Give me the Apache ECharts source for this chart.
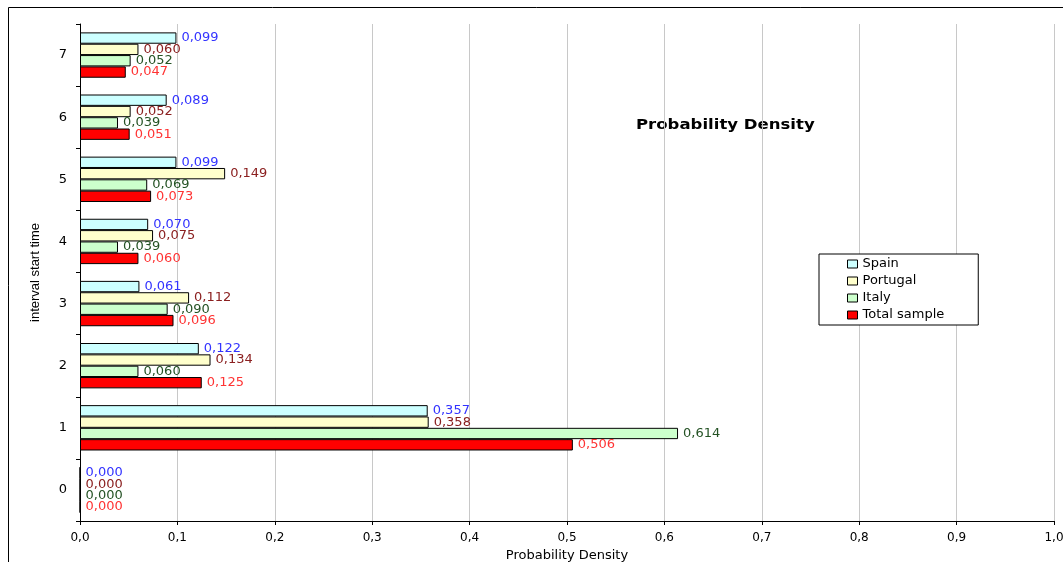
<!DOCTYPE html>
<html>
<head>
<meta charset="utf-8">
<script src="https://cdn.jsdelivr.net/npm/echarts@6/dist/echarts.min.js"></script>
<style>html,body{margin:0;padding:0;background:#fff}#c{width:1063px;height:562px}</style>
</head>
<body>
<div id="c"></div>
<script>
const categories = ['0', '1', '2', '3', '4', '5', '6', '7'];
const spain = [0.000, 0.357, 0.122, 0.061, 0.070, 0.099, 0.089, 0.099];
const portugal = [0.000, 0.358, 0.134, 0.112, 0.075, 0.149, 0.052, 0.060];
const italy = [0.000, 0.614, 0.060, 0.090, 0.039, 0.069, 0.039, 0.052];
const total = [0.000, 0.506, 0.125, 0.096, 0.060, 0.073, 0.051, 0.047];
const xTicks = ['0,0','0,1','0,2','0,3','0,4','0,5','0,6','0,7','0,8','0,9','1,0'];

const fmt = v => v.toFixed(3).replace('.', ',');
const font = 'DejaVu Sans';

function mk(name, data, fill, labelColor) {
  return {
    name: name, type: 'bar', data: data,
    barGap: '0%', barCategoryGap: '27%',
    itemStyle: { color: fill, borderColor: '#000', borderWidth: 1 },
    label: { show: true, position: 'right', distance: 5,
      formatter: p => fmt(p.value), color: labelColor,
      fontFamily: font, fontSize: 13 },
    emphasis: { disabled: true }, animation: false
  };
}

const chart = echarts.init(document.getElementById('c'), null, { renderer: 'canvas' });
chart.setOption({
  animation: false,
  backgroundColor: '#fff',
  legend: {
    orient: 'vertical', left: 819, top: 254,
    backgroundColor: '#fff', borderColor: '#000', borderWidth: 1,
    padding: [3, 34, 3, 28], itemGap: 3, itemWidth: 10, itemHeight: 8,
    itemTextGap: 7,
    icon: 'rect',
    itemStyle: { borderWidth: 1, borderColor: '#000' },
    data: ['Spain', 'Portugal', 'Italy', 'Total sample'],
    textStyle: { fontFamily: font, fontSize: 13, color: '#000', lineHeight: 14 }
  },
  grid: { left: 80, right: 9, top: 24, bottom: 41, containLabel: false, outerBoundsMode: 'none' },
  xAxis: {
    type: 'value', min: 0, max: 1, interval: 0.1,
    name: 'Probability Density', nameLocation: 'middle', nameGap: 24,
    nameTextStyle: { fontFamily: font, fontSize: 13, color: '#000' },
    axisLine: { show: true, lineStyle: { color: '#000', width: 1 } },
    axisTick: { show: true, length: 4, lineStyle: { color: '#000' } },
    axisLabel: { fontFamily: font, fontSize: 12, color: '#000', margin: 11,
      formatter: (v) => xTicks[Math.round(v * 10)] },
    splitLine: { show: true, lineStyle: { color: '#c8c8c8', width: 1 } }
  },
  yAxis: {
    type: 'category', data: categories,
    name: 'interval start time', nameLocation: 'middle', nameGap: 38,
    nameTextStyle: { fontFamily: 'Liberation Sans Narrow, Liberation Sans', fontSize: 13, color: '#000' },
    axisLine: { show: true, lineStyle: { color: '#000', width: 1 } },
    axisTick: { show: true, length: 4, inside: false, lineStyle: { color: '#000' } },
    axisLabel: { fontFamily: font, fontSize: 13, color: '#000', margin: 13 },
    splitLine: { show: false }
  },
  series: [
    mk('Spain', spain, '#ccffff', '#3333ff'),
    mk('Portugal', portugal, '#ffffcc', '#8b2020'),
    mk('Italy', italy, '#ccffcc', '#245224'),
    mk('Total sample', total, '#ff0000', '#ff3333')
  ],
  graphic: [
    { type: 'rect', silent: true,
      shape: { x: 8.5, y: 7.5, width: 1200, height: 700 },
      style: { fill: 'none', stroke: '#000', lineWidth: 1 } },
    { type: 'text', silent: true, x: 636, y: 125, scaleX: 1.18,
      style: { text: 'Probability Density', fill: '#000',
        font: 'bold 14px "DejaVu Sans"', verticalAlign: 'middle', align: 'left' } }
  ]
});
</script>
</body>
</html>
